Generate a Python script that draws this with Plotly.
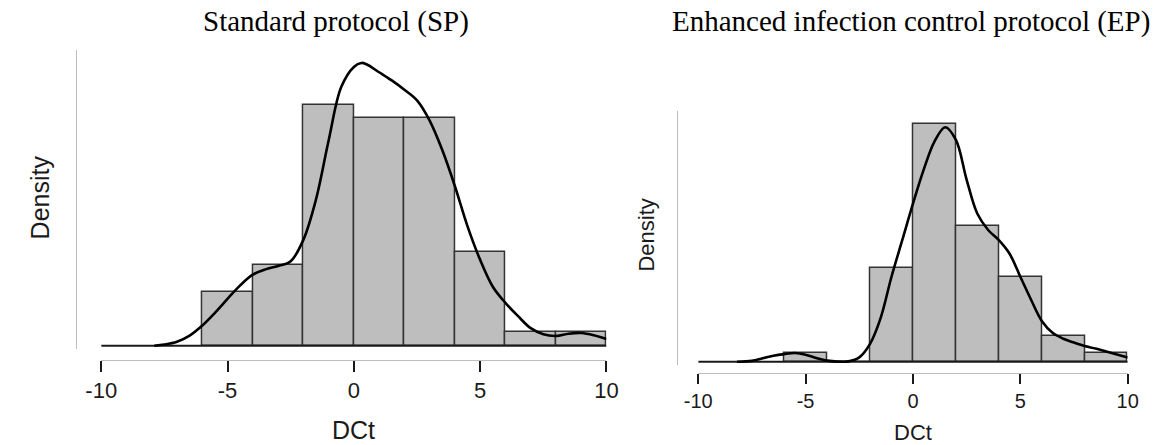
import plotly.graph_objects as go

# ---- data -------------------------------------------------------------
bin_left_edges = [-6, -4, -2, 0, 2, 4, 6, 8]
bin_width = 2

sp_counts = [4, 6, 18, 17, 17, 7, 1, 1]
ep_counts = [1, 0, 11, 28, 16, 10, 3, 1]

# kernel density estimates (density scale)
sp_kde_x = [-7.9, -7.5, -7, -6.5, -6, -5.5, -5, -4.5, -4, -3.5, -3, -2.5, -2, -1.5,
            -1, -0.5, 0, 0.3, 0.5, 1, 1.5, 2, 2.5, 3, 3.5, 4, 4.5, 5, 5.5, 6,
            6.5, 7, 7.5, 8, 8.5, 9, 9.5, 10]
sp_kde_y = [0.0, 0.0006, 0.0021, 0.0053, 0.0106, 0.0173, 0.0246, 0.0317, 0.0373,
            0.0401, 0.0419, 0.0444, 0.0556, 0.0768, 0.1077, 0.1359, 0.1465, 0.1486,
            0.1479, 0.1437, 0.1394, 0.1345, 0.1289, 0.1183, 0.1028, 0.0838, 0.0627,
            0.0451, 0.0310, 0.0225, 0.0155, 0.0092, 0.0060, 0.0051, 0.0063, 0.0067,
            0.0055, 0.0035]

ep_kde_x = [-8.2, -7.5, -7, -6.5, -6, -5.5, -5, -4.5, -4, -3.5, -3, -2.5, -2, -1.5,
            -1, -0.5, 0, 0.5, 1, 1.5, 2, 2.5, 3, 3.5, 4, 4.5, 5, 5.5, 6, 6.5, 7,
            7.5, 8, 8.5, 9, 9.5, 10]
ep_kde_y = [0.0, 0.0007, 0.0029, 0.0050, 0.0064, 0.0073, 0.0059, 0.0031, 0.0009,
            0.0001, 0.0003, 0.0036, 0.0150, 0.0371, 0.0714, 0.1021, 0.1329, 0.1614,
            0.1850, 0.1971, 0.1864, 0.1529, 0.1243, 0.1107, 0.1021, 0.0907, 0.0714,
            0.0521, 0.0343, 0.0243, 0.0193, 0.0161, 0.0132, 0.0111, 0.0086, 0.0061,
            0.0036]

x_ticks = [-10, -5, 0, 5, 10]
titles = ["Standard protocol (SP)", "Enhanced infection control protocol (EP)"]
x_title = "DCt"
y_title = "Density"

# ---- figure -----------------------------------------------------------
W, H = 1168, 445
BAR_FILL = "#bebebe"
BAR_EDGE = "#333333"
AXIS_GREY = "#bdbdbd"
INK = "#1a1a1a"


def px_x(p):
    return p / W


def px_y(p):
    return 1 - p / H


fig = go.Figure()

panels = [
    dict(counts=sp_counts, kx=sp_kde_x, ky=sp_kde_y, xa="x", ya="y"),
    dict(counts=ep_counts, kx=ep_kde_x, ky=ep_kde_y, xa="x2", ya="y2"),
]

for p in panels:
    n = sum(p["counts"])
    dens = [c / (n * bin_width) for c in p["counts"]]
    centers = [e + bin_width / 2 for e in bin_left_edges]
    fig.add_trace(go.Bar(
        x=centers, y=dens, width=bin_width,
        marker=dict(color=BAR_FILL, line=dict(color=BAR_EDGE, width=1.5)),
        xaxis=p["xa"], yaxis=p["ya"], hoverinfo="skip",
    ))
    # baseline across the full range
    fig.add_trace(go.Scatter(
        x=[-10, 10], y=[0, 0], mode="lines",
        line=dict(color=INK, width=2),
        xaxis=p["xa"], yaxis=p["ya"], hoverinfo="skip",
    ))
    fig.add_trace(go.Scatter(
        x=p["kx"], y=p["ky"], mode="lines",
        line=dict(color="black", width=2.6, shape="spline", smoothing=1.0),
        xaxis=p["xa"], yaxis=p["ya"], hoverinfo="skip",
    ))

common_x = dict(
    range=[-10, 10], tickvals=x_ticks, ticktext=[str(t) for t in x_ticks],
    showline=True, linecolor=AXIS_GREY, linewidth=1,
    ticks="outside", tickcolor=INK, tickwidth=2,
    showgrid=False, zeroline=False, anchor="free", fixedrange=True,
)
common_y = dict(
    showline=True, linecolor=AXIS_GREY, linewidth=1,
    showticklabels=False, ticks="", showgrid=False, zeroline=False,
    anchor="free", fixedrange=True,
)

fig.update_layout(
    width=W, height=H,
    margin=dict(l=0, r=0, t=0, b=0),
    paper_bgcolor="white", plot_bgcolor="white",
    showlegend=False, bargap=0,
    xaxis=dict(common_x, domain=[px_x(87.3), px_x(605)], position=px_y(360),
               ticklen=11, tickfont=dict(family="Liberation Sans, Arial", size=22, color=INK)),
    yaxis=dict(common_y, domain=[px_y(348.55), px_y(50)], range=[-0.0015, 0.1554],
               position=px_x(61.7)),
    xaxis2=dict(common_x, domain=[px_x(699), px_x(1139)], position=px_y(373.3),
                ticklen=10, tickfont=dict(family="Liberation Sans, Arial", size=20, color=INK)),
    yaxis2=dict(common_y, domain=[px_y(364.56), px_y(111)], range=[-0.0024, 0.2107],
                position=px_x(677.7)),
)

serif = "Liberation Serif, Times New Roman, serif"
sans = "Liberation Sans, Arial, sans-serif"
annotations = [
    dict(text=titles[0], x=px_x(327.5), y=px_y(22), font=dict(family=serif, size=29, color="black")),
    dict(text=titles[1], x=px_x(917), y=px_y(22), font=dict(family=serif, size=29, color="black")),
    dict(text=y_title, x=px_x(25), y=px_y(197), textangle=-90, font=dict(family=sans, size=25, color=INK)),
    dict(text=y_title, x=px_x(646), y=px_y(235), textangle=-90, font=dict(family=sans, size=22, color=INK)),
    dict(text=x_title, x=px_x(346), y=px_y(430), font=dict(family=sans, size=25, color=INK)),
    dict(text=x_title, x=px_x(919), y=px_y(432), font=dict(family=sans, size=22, color=INK)),
]
for a in annotations:
    fig.add_annotation(xref="paper", yref="paper", xanchor="center", yanchor="middle",
                       showarrow=False, **a)

fig.write_html("out.html")
